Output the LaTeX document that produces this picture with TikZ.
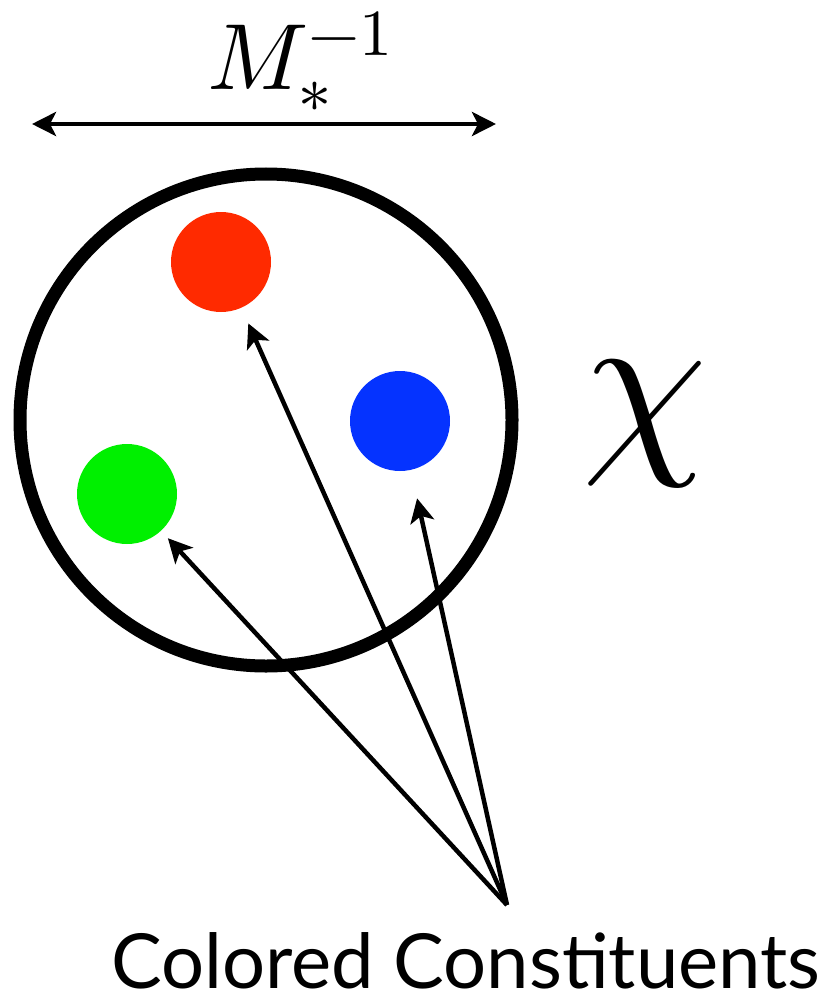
\documentclass[tikz,border=0pt]{standalone}
\usepackage{unicode-math}
\setmathfont{Latin Modern Math}
\setsansfont{Lato}
\usetikzlibrary{arrows.meta}
\definecolor{quarkred}{HTML}{FF2A00}
\definecolor{quarkblue}{HTML}{0533FF}
\definecolor{quarkgreen}{HTML}{00F000}
\begin{document}
\begin{tikzpicture}[x=1pt, y=-1pt, line join=round, >={Stealth[length=24pt,width=24pt,inset=6pt]}]
	\useasboundingbox (0,0) rectangle (831,1003);
	\tikzset{quark/.style={circle, minimum size=100pt, inner sep=0pt}}
	% composite particle
	\draw[line width=13pt] (266,420) circle (246);
	\node[quark, fill=quarkred] (red) at (221,262) {};
	\node[quark, fill=quarkblue] (blue) at (400,421) {};
	\node[quark, fill=quarkgreen] (green) at (127,494) {};
	\node (chi) at (645,424) {\fontsize{200}{200}\selectfont$\chi$};
	
	% size
	\coordinate (sl) at (32,124);
	\coordinate (sr) at (496,124);
	\draw[<->, line width=4.5pt] (sl) -- (sr);
	\node (size) at (300,62) {\fontsize{94}{94}\selectfont$M_*^{-1}$};
	
	% labels
	\coordinate (apex) at (507,905);
	\node[anchor=base, inner sep=0pt] (lbl) at (466,988) {\fontsize{76}{76}\selectfont\sffamily Colored Constituents};
	\draw[->, line width=4.5pt, shorten >=17pt] (apex) -- (red);
	\draw[->, line width=4.5pt, shorten >=29pt] (apex) -- (blue);
	\draw[->, line width=4.5pt, shorten >=10pt] (apex) -- (green);
\end{tikzpicture}
\end{document}
